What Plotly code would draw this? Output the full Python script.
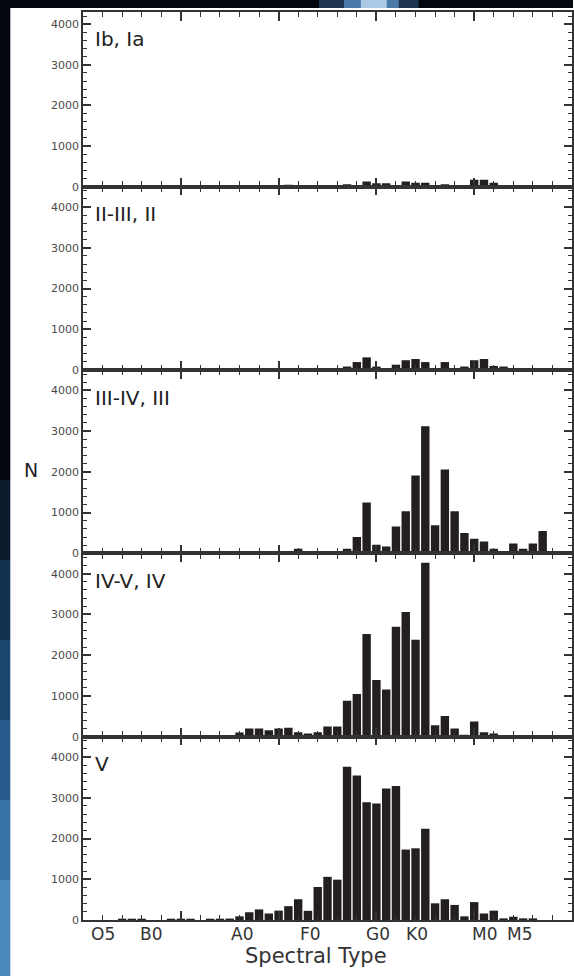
import plotly.graph_objects as go

# ---------------- data ----------------
bin_index = list(range(51))  # spectral-type bins (half-tick spacing)

label_pos = [2.05, 7.0, 16.3, 23.3, 30.2, 34.1, 41.1, 44.6]
label_txt = ["O5", "B0", "A0", "F0", "G0", "K0", "M0", "M5"]

panel_names = ["Ib, Ia", "II-III, II", "III-IV, III", "IV-V, IV", "V"]

n_Ib_Ia = [0, 0, 0, 0, 0, 0, 0, 0, 0, 0,
           0, 0, 0, 0, 0, 0, 0, 0, 0, 0,
           0, 50, 0, 0, 0, 0, 0, 60, 30, 130,
           85, 85, 40, 130, 100, 100, 0, 60, 0, 0,
           170, 170, 100, 0, 0, 0, 0, 0, 0, 0, 0]

n_II = [0, 0, 0, 0, 0, 0, 0, 0, 0, 0,
        0, 0, 0, 0, 0, 0, 0, 0, 0, 0,
        0, 40, 30, 0, 0, 0, 0, 85, 195, 310,
        85, 40, 130, 240, 270, 195, 30, 195, 40, 85,
        240, 270, 100, 85, 40, 0, 0, 0, 0, 0, 0]

n_III = [0, 0, 0, 0, 0, 0, 0, 0, 0, 0,
         0, 0, 0, 0, 0, 0, 0, 0, 30, 0,
         30, 50, 110, 0, 30, 30, 0, 110, 400, 1250,
         210, 170, 660, 1030, 1910, 3120, 690, 2060, 1030, 500,
         360, 290, 110, 40, 240, 110, 240, 550, 0, 0, 0]

n_IV = [0, 0, 0, 0, 0, 0, 0, 0, 0, 0,
        30, 30, 30, 35, 35, 40, 100, 200, 200, 160,
        200, 220, 110, 80, 110, 250, 250, 880, 1050, 2520,
        1390, 1160, 2700, 3060, 2380, 4270, 280, 510, 200, 50,
        370, 110, 80, 40, 40, 40, 40, 40, 0, 0, 0]

n_V = [0, 0, 0, 0, 30, 30, 30, 0, 0, 25,
       30, 30, 0, 25, 30, 35, 90, 190, 260, 160,
       230, 340, 510, 225, 810, 1060, 990, 3760, 3550, 2890,
       2860, 3230, 3290, 1730, 1760, 2240, 410, 510, 370, 90,
       440, 160, 230, 40, 80, 40, 40, 0, 0, 0, 0]

panel_values = [n_Ib_Ia, n_II, n_III, n_IV, n_V]

XR = [0, 50]
y_ranges = [[0, 4300], [0, 4500], [0, 4500], [0, 4500], [0, 4500]]

# ---------------- layout geometry ----------------
W, H = 574, 976
L, R, T, B = 83, 0, 12, 56
PW, PH = W - L - R, H - T - B

def pxx(px):
    return (px - L) / PW

def pxy(py):
    return (H - B - py) / PH

bounds = [(12, 186.7), (186.7, 370), (370, 553.3), (553.3, 736.7), (736.7, 920)]

FRAME = "#333333"
BAR = "#231f20"
FONT = "DejaVu Sans"

fig = go.Figure()
layout = dict(
    width=W, height=H,
    margin=dict(l=L, r=R, t=T, b=B),
    paper_bgcolor="white",
    plot_bgcolor="white",
    showlegend=False,
    font=dict(family=FONT, color="#444"),
)

for i, (vals, name) in enumerate(zip(panel_values, panel_names)):
    k = i + 1
    xa = "x" if k == 1 else f"x{k}"
    ya = "y" if k == 1 else f"y{k}"
    fig.add_trace(go.Bar(x=bin_index, y=vals, width=0.86,
                         marker=dict(color=BAR, line=dict(width=0)),
                         xaxis=xa, yaxis=ya))
    top, bot = bounds[i]
    layout["xaxis" if k == 1 else f"xaxis{k}"] = dict(
        domain=[0, 1], anchor=ya, range=XR, showgrid=False, zeroline=False,
        showline=True, linecolor=FRAME, linewidth=1.5, mirror="ticks",
        ticks="inside", tick0=0, dtick=10, ticklen=9, tickwidth=1.6,
        tickcolor=FRAME, showticklabels=False,
        minor=dict(ticks="inside", dtick=2, ticklen=5.5, tickwidth=1.3,
                   tickcolor=FRAME),
    )
    layout["yaxis" if k == 1 else f"yaxis{k}"] = dict(
        domain=[pxy(bot), pxy(top)], anchor=xa, range=y_ranges[i], showgrid=False,
        zeroline=False, showline=True, linecolor=FRAME, linewidth=1.5,
        mirror="ticks", ticks="inside", tick0=0, dtick=1000, ticklen=8,
        tickwidth=1.6, tickcolor=FRAME,
        tickfont=dict(size=11, color="#4a4a4a", family=FONT),
        minor=dict(ticks="inside", dtick=200, ticklen=4.5, tickwidth=1.3,
                   tickcolor=FRAME),
    )

annotations = []
# spectral-type tick labels, placed on the bottom panel's x scale
for pos, txt in zip(label_pos, label_txt):
    annotations.append(dict(text=txt, xref="x5", yref="paper", x=pos, y=pxy(934),
                            xanchor="center", yanchor="middle", showarrow=False,
                            font=dict(size=17, color="#333", family=FONT)))
for i, name in enumerate(panel_names):
    k = i + 1
    annotations.append(dict(
        text=name, xref=("x" if k == 1 else f"x{k}") + " domain",
        yref=("y" if k == 1 else f"y{k}") + " domain", x=0.02, y=0.925,
        xanchor="left", yanchor="top", showarrow=False,
        font=dict(size=20, color="#222", family=FONT)))
annotations.append(dict(text="N", xref="paper", yref="paper",
                        x=pxx(31), y=pxy(470), xanchor="center", yanchor="middle",
                        showarrow=False, font=dict(size=19, color="#222", family=FONT)))
annotations.append(dict(text="Spectral Type", xref="paper", yref="paper",
                        x=pxx(317), y=pxy(956), xanchor="center", yanchor="middle",
                        showarrow=False, font=dict(size=21, color="#333", family=FONT)))
layout["annotations"] = annotations

# dark space backdrop visible around the figure sheet (left strip, top band)
shapes = []
strip = [(0, 480, "#04070d"), (480, 560, "#0b1a2c"), (560, 640, "#12304f"),
         (640, 720, "#1c4570"), (720, 800, "#285b8c"), (800, 880, "#3771a6"),
         (880, 977, "#4b88bd")]
for y0, y1, c in strip:
    shapes.append(dict(type="rect", xref="paper", yref="paper", layer="above",
                       x0=pxx(-1), x1=pxx(10), y0=pxy(y1), y1=pxy(y0),
                       fillcolor=c, line=dict(width=0)))
for x0, x1, c in [(-1, 575, "#04070d"), (320, 420, "#1d3550"),
                  (345, 400, "#4a7aa8"), (362, 388, "#a9c9e6")]:
    shapes.append(dict(type="rect", xref="paper", yref="paper", layer="above",
                       x0=pxx(x0), x1=pxx(x1), y0=pxy(8), y1=pxy(-1),
                       fillcolor=c, line=dict(width=0)))
layout["shapes"] = shapes

fig.update_layout(**layout)
fig.write_html("out.html")
